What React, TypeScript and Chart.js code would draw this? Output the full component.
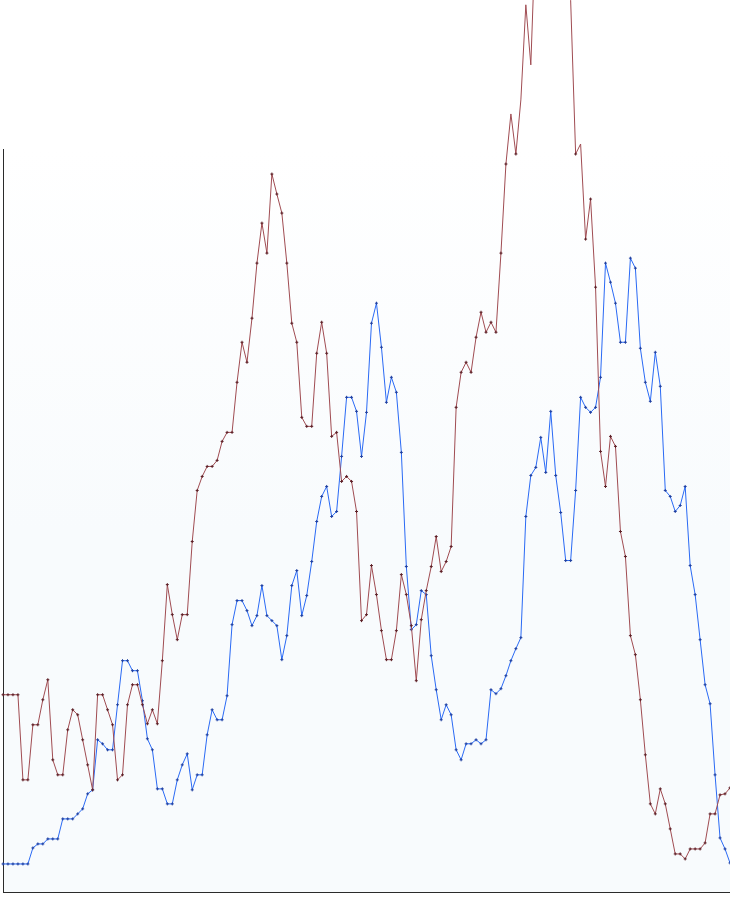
import React, { useEffect, useRef } from "react";
import { Chart, registerables } from "chart.js";

Chart.register(...registerables);

const redValues = [
  197, 197, 197, 197, 112, 112, 167, 167, 192, 212,
  132, 117, 117, 162, 182, 177, 152, 127, 102, 197,
  197, 182, 167, 112, 117, 187, 207, 207, 187, 168,
  182, 168, 231, 307, 277, 252, 277, 277, 350, 401,
  415, 425, 425, 431, 450, 459, 459, 509, 549, 529,
  573, 628, 668, 638, 717, 697, 678, 628, 568, 549,
  474, 465, 465, 538, 569, 538, 455, 459, 410, 415,
  410, 380, 271, 277, 326, 297, 261, 232, 232, 261,
  317, 297, 266, 211, 272, 301, 325, 355, 320, 330,
  345, 484, 519, 529, 519, 554, 579, 559, 569, 559,
  638, 727, 777, 737, 791, 886, 826, 967, 1031, 1001,
  1061, 1041, 1011, 951, 890, 737, 747, 652, 692, 604,
  440, 405, 455, 445, 360, 335, 256, 237, 192, 137,
  88, 78, 103, 88, 63, 38, 38, 33, 43, 43,
  43, 49, 78, 78, 97, 98, 104,
];

const blueValues = [
  28, 28, 28, 28, 28, 28, 44, 48, 48, 53,
  53, 53, 73, 73, 73, 78, 83, 98, 102, 152,
  148, 142, 142, 187, 231, 231, 221, 221, 191, 153,
  142, 103, 103, 88, 88, 112, 127, 138, 102, 117,
  117, 157, 182, 172, 172, 196, 267, 291, 291, 281,
  266, 276, 306, 276, 271, 266, 232, 256, 306, 321,
  276, 296, 330, 370, 395, 405, 375, 380, 435, 494,
  494, 480, 435, 479, 568, 588, 544, 489, 514, 499,
  439, 325, 262, 267, 301, 297, 236, 202, 172, 187,
  177, 142, 132, 148, 148, 152, 148, 152, 202, 198,
  203, 216, 231, 243, 254, 375, 416, 424, 454, 419,
  480, 416, 379, 331, 331, 401, 494, 484, 479, 484,
  514, 628, 609, 588, 549, 549, 633, 623, 543, 509,
  490, 539, 505, 401, 395, 380, 386, 405, 326, 297,
  252, 207, 188, 117, 54, 43, 29,
];

const categories = redValues.map((_, i) => String(i + 1));

const Y_MIN = 0;
const Y_MAX = 742;

const areaBackground = {
  id: "areaBackground",
  beforeDraw(chart: any) {
    const { ctx, chartArea } = chart;
    if (!chartArea) return;
    const { left, top, right, bottom } = chartArea;
    const g = ctx.createLinearGradient(left, top, left, top + 380);
    g.addColorStop(0, "#ffffff");
    g.addColorStop(1, "#f8fbfd");
    ctx.save();
    ctx.fillStyle = g;
    ctx.fillRect(left, top, right - left, bottom - top);
    ctx.restore();
  },
};

export default function App() {
  const ref = useRef<HTMLCanvasElement | null>(null);

  useEffect(() => {
    if (!ref.current) return;
    const chart = new Chart(ref.current, {
      type: "line",
      data: {
        labels: categories,
        datasets: [
          {
            label: "red",
            data: redValues,
            borderColor: "#a04c52",
            borderWidth: 1,
            pointStyle: "cross",
            pointRadius: 1.5,
            pointBorderWidth: 1,
            pointBorderColor: "#5c1f26",
            pointBackgroundColor: "#5c1f26",
            tension: 0,
            fill: false,
            clip: false as any,
          },
          {
            label: "blue",
            data: blueValues,
            borderColor: "#2a6af5",
            borderWidth: 1,
            pointStyle: "cross",
            pointRadius: 1.5,
            pointBorderWidth: 1,
            pointBorderColor: "#1f3f9f",
            pointBackgroundColor: "#1f3f9f",
            tension: 0,
            fill: false,
            clip: false as any,
          },
        ],
      },
      options: {
        animation: false,
        responsive: true,
        maintainAspectRatio: false,
        layout: {
          autoPadding: false,
          padding: { left: 3, top: 149, right: 0, bottom: 6 },
        },
        plugins: {
          legend: { display: false },
          tooltip: { enabled: false },
          title: { display: false },
        },
        scales: {
          x: {
            offset: false,
            ticks: { display: false },
            grid: { display: false, drawTicks: false },
            border: { display: true, color: "#2b2b2b", width: 1 },
          },
          y: {
            min: Y_MIN,
            max: Y_MAX,
            ticks: { display: false },
            grid: { display: false, drawTicks: false },
            border: { display: true, color: "#2b2b2b", width: 1 },
          },
        },
      },
      plugins: [areaBackground],
    });
    return () => chart.destroy();
  }, []);

  return (
    <div
      style={{
        position: "fixed",
        left: 0,
        top: 0,
        width: 730,
        height: 898,
        background: "#ffffff",
      }}
    >
      <canvas ref={ref} />
    </div>
  );
}
